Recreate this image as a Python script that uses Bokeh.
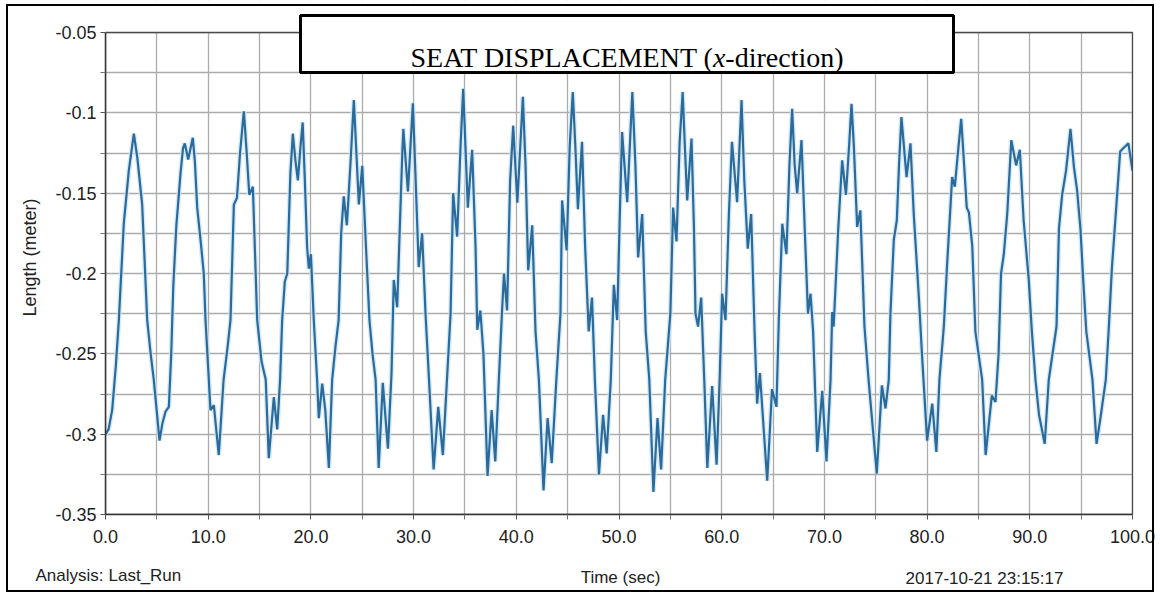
from bokeh.plotting import figure
from bokeh.models import Range1d, FixedTicker, Label, BoxAnnotation
from bokeh.layouts import column
from bokeh.embed import file_html
from bokeh.resources import INLINE

# ---------------- data ----------------
time_sec = [
    0.0, 0.3, 0.65, 1.0, 1.3, 1.78, 2.27, 2.76, 3.1, 3.57, 4.06, 4.4, 4.7, 5.26, 5.55, 5.84, 6.17, 6.4, 6.6, 6.9,
    7.3, 7.55, 7.72, 8.05, 8.5, 8.7, 8.93, 9.3, 9.57, 9.74, 10.06, 10.22, 10.55, 11.03, 11.5, 11.9, 12.17, 12.5, 12.8, 13.1,
    13.47, 13.75, 14.0, 14.35, 14.77, 15.2, 15.6, 15.9, 16.39, 16.72, 17.0, 17.2, 17.46, 17.7, 18.0, 18.24, 18.5, 18.73, 19.0, 19.2,
    19.4, 19.63, 19.8, 20.0, 20.28, 20.6, 20.77, 21.1, 21.4, 21.75, 22.07, 22.4, 22.7, 22.95, 23.2, 23.5, 23.85, 24.18, 24.4, 24.67,
    25.0, 25.3, 25.7, 26.0, 26.3, 26.6, 27.0, 27.5, 27.85, 28.07, 28.4, 28.7, 28.9, 29.0, 29.45, 29.93, 30.2, 30.5, 30.83, 31.16,
    31.5, 31.95, 32.4, 32.85, 33.25, 33.6, 33.85, 34.24, 34.57, 34.83, 35.05, 35.28, 35.7, 36.03, 36.2, 36.5, 36.8, 37.2, 37.6, 37.95,
    38.3, 38.6, 38.8, 39.1, 39.4, 39.7, 40.1, 40.64, 40.9, 41.16, 41.55, 41.87, 42.2, 42.65, 43.05, 43.45, 43.9, 44.3, 44.46, 44.9,
    45.2, 45.5, 45.75, 46.0, 46.4, 46.7, 47.05, 47.37, 47.65, 48.05, 48.45, 48.8, 49.2, 49.5, 49.82, 50.08, 50.3, 50.8, 51.3, 51.6,
    51.86, 52.26, 52.6, 52.95, 53.35, 53.75, 54.1, 54.5, 55.0, 55.27, 55.6, 55.9, 56.2, 56.4, 56.64, 57.06, 57.3, 57.45, 57.7, 58.0,
    58.3, 58.6, 59.07, 59.5, 59.8, 60.04, 60.37, 60.7, 61.0, 61.5, 61.93, 62.2, 62.54, 62.87, 63.2, 63.45, 63.72, 64.43, 64.9, 65.33,
    65.56, 65.9, 66.3, 66.6, 66.86, 67.1, 67.35, 67.77, 68.15, 68.4, 68.65, 68.9, 69.3, 69.79, 70.2, 70.6, 70.76, 70.9, 71.35, 71.73,
    72.1, 72.4, 72.64, 72.87, 73.19, 73.5, 73.9, 74.3, 75.1, 75.6, 75.95, 76.27, 76.43, 76.76, 77.05, 77.27, 77.5, 78.0, 78.38, 78.7,
    79.2, 79.5, 80.0, 80.5, 80.9, 81.2, 81.63, 81.96, 82.44, 82.7, 82.99, 83.32, 83.6, 83.86, 84.07, 84.4, 84.7, 85.36, 85.7, 86.3,
    86.66, 86.96, 87.2, 87.47, 87.8, 88.2, 88.67, 89.03, 89.4, 89.9, 90.2, 90.55, 90.9, 91.45, 91.85, 92.6, 92.84, 93.15, 93.53, 93.96,
    94.3, 94.6, 94.93, 95.2, 95.5, 96.1, 96.5, 96.9, 97.4, 97.7, 98.0, 98.37, 98.8, 99.1, 99.6, 100.0,
]
length_m = [
    -0.300, -0.297, -0.285, -0.258, -0.229, -0.169, -0.136, -0.113, -0.128, -0.157, -0.229, -0.250, -0.266, -0.304, -0.293, -0.286, -0.283, -0.250, -0.208, -0.170,
    -0.138, -0.122, -0.119, -0.129, -0.1155, -0.130, -0.159, -0.182, -0.200, -0.229, -0.266, -0.285, -0.282, -0.313, -0.266, -0.245, -0.229, -0.157, -0.153, -0.125,
    -0.099, -0.125, -0.151, -0.146, -0.229, -0.255, -0.266, -0.315, -0.277, -0.297, -0.266, -0.229, -0.205, -0.200, -0.138, -0.113, -0.130, -0.142, -0.120, -0.106,
    -0.140, -0.1835, -0.197, -0.188, -0.229, -0.266, -0.290, -0.2685, -0.285, -0.321, -0.266, -0.245, -0.229, -0.175, -0.152, -0.170, -0.132, -0.092, -0.121, -0.157,
    -0.133, -0.175, -0.229, -0.250, -0.266, -0.321, -0.268, -0.309, -0.262, -0.204, -0.221, -0.163, -0.125, -0.110, -0.149, -0.094, -0.142, -0.196, -0.175, -0.225,
    -0.266, -0.322, -0.283, -0.313, -0.266, -0.225, -0.150, -0.177, -0.121, -0.085, -0.121, -0.159, -0.123, -0.183, -0.235, -0.223, -0.250, -0.326, -0.285, -0.317,
    -0.266, -0.225, -0.200, -0.223, -0.142, -0.108, -0.156, -0.090, -0.133, -0.198, -0.170, -0.236, -0.266, -0.335, -0.290, -0.318, -0.266, -0.225, -0.1545, -0.1856,
    -0.121, -0.087, -0.121, -0.160, -0.118, -0.183, -0.236, -0.215, -0.266, -0.325, -0.288, -0.312, -0.266, -0.207, -0.229, -0.163, -0.112, -0.1556, -0.087, -0.133,
    -0.190, -0.163, -0.236, -0.266, -0.336, -0.290, -0.322, -0.266, -0.225, -0.159, -0.180, -0.119, -0.087, -0.119, -0.1545, -0.116, -0.172, -0.225, -0.233, -0.215,
    -0.266, -0.321, -0.270, -0.319, -0.266, -0.2126, -0.229, -0.163, -0.118, -0.1556, -0.092, -0.142, -0.1846, -0.163, -0.236, -0.281, -0.262, -0.329, -0.272, -0.283,
    -0.229, -0.169, -0.188, -0.132, -0.0975, -0.132, -0.150, -0.117, -0.183, -0.225, -0.2126, -0.236, -0.311, -0.273, -0.317, -0.266, -0.224, -0.233, -0.172, -0.1296,
    -0.151, -0.121, -0.0944, -0.121, -0.171, -0.1607, -0.233, -0.266, -0.3245, -0.2696, -0.284, -0.266, -0.225, -0.179, -0.167, -0.132, -0.1027, -0.140, -0.119, -0.163,
    -0.215, -0.250, -0.304, -0.281, -0.311, -0.266, -0.233, -0.193, -0.140, -0.146, -0.1255, -0.1037, -0.132, -0.159, -0.162, -0.183, -0.236, -0.266, -0.313, -0.276,
    -0.280, -0.250, -0.200, -0.188, -0.163, -0.117, -0.1327, -0.123, -0.167, -0.204, -0.236, -0.266, -0.288, -0.306, -0.266, -0.233, -0.172, -0.151, -0.136, -0.110,
    -0.134, -0.148, -0.172, -0.204, -0.236, -0.266, -0.306, -0.289, -0.266, -0.233, -0.196, -0.163, -0.124, -0.122, -0.119, -0.136,
]

x_major_ticks = [0, 10, 20, 30, 40, 50, 60, 70, 80, 90, 100]
x_minor_ticks = [5, 15, 25, 35, 45, 55, 65, 75, 85, 95]
x_tick_labels = ["0.0", "10.0", "20.0", "30.0", "40.0", "50.0", "60.0", "70.0", "80.0", "90.0", "100.0"]

y_major_ticks = [-0.35, -0.3, -0.25, -0.2, -0.15, -0.1, -0.05]
y_minor_ticks = [-0.325, -0.275, -0.225, -0.175, -0.125, -0.075]
y_tick_labels = ["-0.35", "-0.3", "-0.25", "-0.2", "-0.15", "-0.1", "-0.05"]

title_parts = ["SEAT DISPLACEMENT (", "x", "-direction)"]
x_title = "Time (sec)"
y_title = "Length (meter)"
footer_left = ["Analysis:", "Last_Run"]
footer_right = "2017-10-21 23:15:17"

# ---------------- layout constants (canvas pixels) ----------------
W, H = 1160, 596
H_TOP = 555                       # height of the chart figure; footer strip below
FL, FB = 105, 514                 # frame left, position of the x axis
X0, X1, Y0, Y1 = 0.0, 100.0, -0.35, -0.05
PX_X = (1132 - FL) / (X1 - X0)    # pixels per second
PX_Y = (FB - 32) / (Y1 - Y0)      # pixels per metre

NARROW = "'Liberation Sans Narrow', 'Liberation Sans', sans-serif"
SERIF = "'Liberation Serif', 'Times New Roman', serif"
LINE = "#2b6b9b"
GRID = "#ababab"


def sx(cx):
    return cx - FL


def sy(cy):
    return FB - cy


# frame spans x 105..1160 and y 0..514; the data box is 105..1132 x 32..514
p = figure(width=W, height=H_TOP,
           x_range=Range1d(X0, X1 + (W - 1132) / PX_X),
           y_range=Range1d(Y0, Y1 + 32 / PX_Y),
           output_backend="svg", toolbar_location=None, title=None,
           min_border_left=FL, min_border_right=0, min_border_top=0, min_border_bottom=H_TOP - FB)
p.frame_align = False
p.background_fill_color = "white"
p.border_fill_color = "white"
p.outline_line_color = None

xt = FixedTicker(ticks=x_major_ticks, minor_ticks=x_minor_ticks)
yt = FixedTicker(ticks=y_major_ticks, minor_ticks=y_minor_ticks)
p.xaxis.ticker = xt
p.yaxis.ticker = yt
p.xgrid.ticker = xt
p.ygrid.ticker = yt
for g in (p.xgrid, p.ygrid):
    g.grid_line_color = GRID
    g.grid_line_width = 1.3
    g.minor_grid_line_color = GRID
    g.minor_grid_line_width = 1.3

p.xaxis.bounds = (X0, X1)
p.yaxis.bounds = (Y0, Y1)
p.xaxis.major_label_overrides = dict(zip(x_major_ticks, x_tick_labels))
p.yaxis.major_label_overrides = dict(zip(y_major_ticks, y_tick_labels))

for ax in (p.xaxis, p.yaxis):
    ax.axis_line_color = "#222222"
    ax.axis_line_width = 1.5
    ax.major_tick_line_color = "#555555"
    ax.minor_tick_line_color = "#777777"
    ax.major_tick_in = 0
    ax.minor_tick_in = 0
    ax.major_tick_out = 5
    ax.minor_tick_out = 5
    ax.major_label_text_font = NARROW
    ax.major_label_text_font_size = "18px"
    ax.major_label_text_color = "#222222"

p.xaxis.major_label_standoff = 10
p.yaxis.major_label_standoff = 4
p.yaxis.axis_label = y_title
p.yaxis.axis_label_text_font = "Liberation Sans"
p.yaxis.axis_label_text_font_style = "normal"
p.yaxis.axis_label_text_color = "#222222"
p.yaxis.axis_label_text_font_size = "18px"
p.yaxis.axis_label_standoff = 12

# signal
p.line(time_sec, length_m, line_color="#cfe6f5", line_width=5, line_alpha=0.8)
p.line(time_sec, length_m, line_color=LINE, line_width=2.2)

# white covers outside the data box (above -0.05 and right of 100 s)
p.add_layout(BoxAnnotation(bottom=Y1, fill_color="white", fill_alpha=1, line_alpha=0))
p.add_layout(BoxAnnotation(left=X1, fill_color="white", fill_alpha=1, line_alpha=0))
# data-box border
p.add_layout(BoxAnnotation(left=X0, right=X1, bottom=Y0, top=Y1, fill_alpha=0,
                           line_color="#4a4a4a", line_alpha=1, line_width=1.3))

# title box
p.add_layout(BoxAnnotation(left=sx(300), right=sx(953), bottom=sy(72), top=sy(15),
                           left_units="screen", right_units="screen",
                           bottom_units="screen", top_units="screen",
                           fill_color="white", fill_alpha=1,
                           line_color="black", line_alpha=1, line_width=3))
fs = 28
tx = 410
part_w = [10.944 * fs - 4, 0.444 * fs]
common = dict(x_units="screen", y_units="screen", text_font=SERIF, text_font_size=f"{fs}px",
              text_baseline="alphabetic", text_color="black")
p.add_layout(Label(x=sx(tx), y=sy(57), text=title_parts[0], **common))
p.add_layout(Label(x=sx(tx + part_w[0]), y=sy(57), text=title_parts[1], text_font_style="italic", **common))
p.add_layout(Label(x=sx(tx + part_w[0] + part_w[1]), y=sy(57), text=title_parts[2], **common))

# ---------------- footer strip (canvas coordinates, y measured from top) ----------------
f = figure(width=W, height=H - H_TOP, x_range=Range1d(0, W), y_range=Range1d(H, H_TOP),
           x_axis_type=None, y_axis_type=None, output_backend="svg", toolbar_location=None,
           title=None, min_border=0, min_border_left=0, min_border_right=0,
           min_border_top=0, min_border_bottom=0)
f.frame_align = False
f.outline_line_color = None
f.background_fill_color = "white"
f.border_fill_color = "white"
foot = dict(text_font=NARROW, text_font_size="17px", text_baseline="middle", text_color="#222222")
f.add_layout(Label(x=35, y=575, text=footer_left[0], **foot))
f.add_layout(Label(x=108, y=575, text=footer_left[1], **foot))
f.add_layout(Label(x=620, y=577, text=x_title, text_align="center", **foot))
f.add_layout(Label(x=984, y=578, text=footer_right, text_align="center", **foot))

frame_css = """
:host::after {
  content: "";
  position: absolute;
  left: 6px; top: 4px; right: 6px; bottom: 4px;
  border: 2.5px solid black;
  pointer-events: none;
  z-index: 10;
}
"""
layout = column(p, f, spacing=0, stylesheets=[frame_css])

open("out.html", "w").write(file_html(layout, INLINE))
